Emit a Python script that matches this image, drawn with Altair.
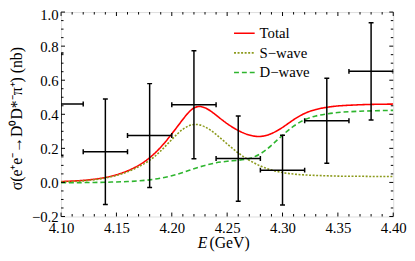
import altair as alt
import pandas as pd

# ---------------- data ----------------
curve_x = [4.10, 4.11, 4.12, 4.13, 4.14, 4.15, 4.16, 4.17, 4.18, 4.19,
           4.20, 4.21, 4.22, 4.23, 4.24, 4.25, 4.26, 4.27, 4.28, 4.29,
           4.30, 4.31, 4.32, 4.33, 4.34, 4.35, 4.36, 4.37, 4.38, 4.39, 4.40]
total_y = [0.005, 0.008, 0.012, 0.019, 0.029, 0.045, 0.068, 0.100, 0.145, 0.207,
           0.285, 0.370, 0.437, 0.438, 0.395, 0.345, 0.305, 0.278, 0.270, 0.287,
           0.323, 0.368, 0.405, 0.428, 0.441, 0.449, 0.453, 0.456, 0.458, 0.459, 0.460]
s_wave_y = [0.003, 0.005, 0.009, 0.016, 0.026, 0.041, 0.062, 0.092, 0.130, 0.185,
            0.252, 0.312, 0.340, 0.326, 0.282, 0.226, 0.173, 0.130, 0.097, 0.073,
            0.058, 0.049, 0.044, 0.041, 0.039, 0.037, 0.036, 0.036, 0.035, 0.035, 0.035]
d_wave_y = [-0.002, -0.002, -0.001, 0.000, 0.001, 0.003, 0.005, 0.009, 0.015, 0.025,
            0.039, 0.058, 0.080, 0.100, 0.115, 0.124, 0.130, 0.141, 0.168, 0.218,
            0.277, 0.330, 0.368, 0.390, 0.402, 0.410, 0.415, 0.418, 0.420, 0.422, 0.423]

series_names = ["Total", "S\u2212wave", "D\u2212wave"]
series_colors = ["#ff0000", "#8c9a1c", "#2eb52e"]
series_dash = [[1, 0], [2, 1.6], [5, 3]]

pt_x = [4.10, 4.14, 4.18, 4.22, 4.26, 4.30, 4.34, 4.38]
pt_y = [0.460, 0.180, 0.275, 0.456, 0.140, 0.072, 0.362, 0.652]
pt_xerr = [0.02, 0.02, 0.02, 0.02, 0.02, 0.02, 0.02, 0.02]
pt_yerr = [0.300, 0.310, 0.305, 0.317, 0.250, 0.205, 0.250, 0.285]

x_major = [4.10, 4.15, 4.20, 4.25, 4.30, 4.35, 4.40]
x_minor = [4.11, 4.12, 4.13, 4.14, 4.16, 4.17, 4.18, 4.19, 4.21, 4.22, 4.23, 4.24,
           4.26, 4.27, 4.28, 4.29, 4.31, 4.32, 4.33, 4.34, 4.36, 4.37, 4.38, 4.39]
y_major = [-0.2, 0.0, 0.2, 0.4, 0.6, 0.8, 1.0]
y_minor = [-0.15, -0.1, -0.05, 0.05, 0.1, 0.15, 0.25, 0.3, 0.35, 0.45, 0.5, 0.55,
           0.65, 0.7, 0.75, 0.85, 0.9, 0.95]

y_title = "\u03c3(e\u207ae\u207b\u2192D\u2070D*\u207b\u03c0\u207a) (nb)"

# ---------------- layout ----------------
W, H = 338, 208
FONT = "'Liberation Serif', 'Times New Roman', serif"
FS = 15

curves = pd.DataFrame({
    "x": curve_x * 3,
    "y": total_y + s_wave_y + d_wave_y,
    "series": [n for n in series_names for _ in curve_x],
})
pts = pd.DataFrame({
    "x": pt_x,
    "y": pt_y,
    "xlo": [a - b for a, b in zip(pt_x, pt_xerr)],
    "xhi": [a + b for a, b in zip(pt_x, pt_xerr)],
    "ylo": [a - b for a, b in zip(pt_y, pt_yerr)],
    "yhi": [a + b for a, b in zip(pt_y, pt_yerr)],
})

xscale = alt.Scale(domain=[4.10, 4.40], nice=False, zero=False)
yscale = alt.Scale(domain=[-0.2, 1.0], nice=False, zero=False)
xaxis = alt.Axis(values=x_major, format=".2f", ticks=False, domain=False, grid=False,
                 labelFont=FONT, labelFontSize=FS, labelPadding=4, labelFlush=False,
                 labelOverlap=False, labelBound=False, labelColor="black", title=None)
yaxis = alt.Axis(values=y_major, format=".1f", ticks=False, domain=False, grid=False,
                 labelFont=FONT, labelFontSize=FS, labelPadding=3, labelOverlap=False,
                 labelBound=False, labelColor="black",
                 labelOffset={"condition": {"test": "datum.value >= 0.99", "value": 3}, "value": 0},
                 title=y_title, titleFont=FONT, titleFontSize=16,
                 titleFontWeight="normal", titleColor="black", titleAngle=270,
                 titleAlign="center", titleBaseline="bottom", titleX=-37, titleY=108)


def X(f):
    return alt.X(f, type="quantitative", scale=xscale, axis=xaxis)


def Y(f):
    return alt.Y(f, type="quantitative", scale=yscale, axis=yaxis)


leg = alt.Legend(title=None, orient="none", legendX=175, legendY=10, symbolType="stroke",
                 symbolSize=441, symbolStrokeWidth=1.6, labelFont=FONT, labelFontSize=FS,
                 labelOffset=4, padding=0, rowPadding=-1.5, labelColor="black")

lines = alt.Chart(curves).mark_line(strokeWidth=1.6, clip=True, interpolate="natural").encode(
    x=X("x"), y=Y("y"),
    color=alt.Color("series:N", scale=alt.Scale(domain=series_names, range=series_colors), legend=leg),
    strokeDash=alt.StrokeDash("series:N", scale=alt.Scale(domain=series_names, range=series_dash), legend=leg),
)

ebar_v = alt.Chart(pts).mark_rule(color="black", strokeWidth=1.5, clip=True).encode(
    x=X("x"), y=Y("ylo"), y2="yhi")
ebar_h = alt.Chart(pts).mark_rule(color="black", strokeWidth=1.5, clip=True).encode(
    x=X("xlo"), x2="xhi", y=Y("y"))
hcap = "M-1,0L1,0"
vcap = "M0,-1L0,1"


def cap(shape, xf, yf):
    return alt.Chart(pts).mark_point(shape=shape, size=25, filled=False, color="black",
                                     strokeWidth=1.5, opacity=1, clip=True).encode(x=X(xf), y=Y(yf))


caps = [cap(hcap, "x", "ylo"), cap(hcap, "x", "yhi"), cap(vcap, "xlo", "y"), cap(vcap, "xhi", "y")]

MAJ, MIN = 4, 2.5
xmaj = pd.DataFrame({"t": x_major})
xmin = pd.DataFrame({"t": x_minor})
ymaj = pd.DataFrame({"t": y_major})
ymin = pd.DataFrame({"t": y_minor})


def xticks(df, L):
    b = alt.Chart(df).mark_rule(color="black", strokeWidth=1).encode(
        x=X("t"), y=alt.value(H), y2=alt.value(H - L))
    t = alt.Chart(df).mark_rule(color="black", strokeWidth=1).encode(
        x=X("t"), y=alt.value(0), y2=alt.value(L))
    return [b, t]


def yticks(df, L):
    l = alt.Chart(df).mark_rule(color="black", strokeWidth=1).encode(
        y=Y("t"), x=alt.value(0), x2=alt.value(L))
    r = alt.Chart(df).mark_rule(color="black", strokeWidth=1).encode(
        y=Y("t"), x=alt.value(W), x2=alt.value(W - L))
    return [l, r]


xt_E = alt.Chart(pd.DataFrame({"s": ["E"]})).mark_text(
    font=FONT, fontSize=16, fontStyle="italic", align="left", baseline="alphabetic", color="black"
).encode(x=alt.value(139), y=alt.value(240), text="s:N")
xt_rest = alt.Chart(pd.DataFrame({"s": ["(GeV)"]})).mark_text(
    font=FONT, fontSize=16, align="left", baseline="alphabetic", color="black"
).encode(x=alt.value(151), y=alt.value(240), text="s:N")

layers = ([lines, ebar_v, ebar_h] + caps
          + xticks(xmaj, MAJ) + xticks(xmin, MIN) + yticks(ymaj, MAJ) + yticks(ymin, MIN)
          + [xt_E, xt_rest])

chart = alt.layer(*layers).properties(
    width=W, height=H,
    autosize=alt.AutoSizeParams(type="none"),
    padding={"left": 54, "top": 2, "right": 14, "bottom": 35},
).configure_view(stroke="black", strokeWidth=1).configure(background="white")

chart.save("out.html", embed_options={"renderer": "svg", "actions": False})
